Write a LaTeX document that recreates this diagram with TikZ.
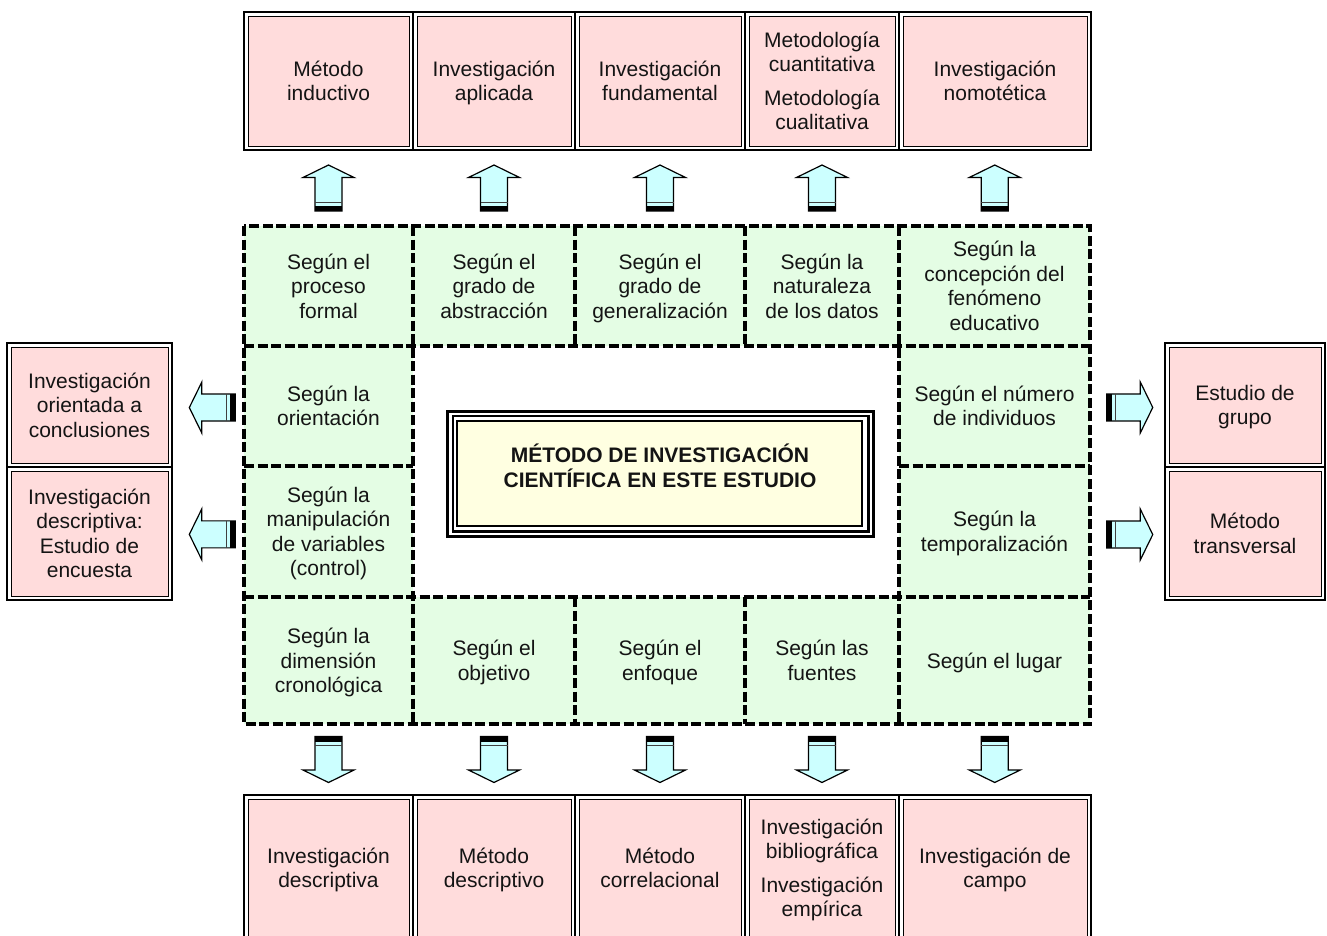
\documentclass[tikz,border=0pt]{standalone}
\usepackage{fontspec}
\setmainfont{Liberation Sans}
\usetikzlibrary{calc}
\definecolor{pinkc}{HTML}{FFDCDC}
\definecolor{greenc}{HTML}{E4FDE4}
\definecolor{arrowc}{HTML}{CCFFFF}
\definecolor{yellowc}{HTML}{FFFFE1}
\definecolor{inkc}{HTML}{141414}

\tikzset{
  blockarrow/.pic={
    \filldraw[fill=arrowc, draw=black, line width=1.2pt, line join=miter]
      (0,-23) -- (25.5,-10.5) -- (13.5,-10.5) -- (13.5,23) -- (-13.5,23)
      -- (-13.5,-10.5) -- (-25.5,-10.5) -- cycle;
    \fill[black] (-13.5,17.5) rectangle (13.5,23);
    \draw[line width=1.3pt, black!75] (-13.5,14.3) -- (13.5,14.3);
  }
}

\begin{document}
\begin{tikzpicture}[x=1pt,y=-1pt,
  every node/.style={inner sep=0pt, outer sep=0pt, align=center, text=inkc,
    font=\fontsize{21}{24.5}\selectfont, text depth=-3pt},
  pinkbox/.style={draw=black, fill=white, line width=2.6pt,
    path picture={\filldraw[fill=pinkc, draw=black, line width=0.9pt]
      ([xshift=4pt,yshift=-4pt]path picture bounding box.north west) rectangle
      ([xshift=-4pt,yshift=4pt]path picture bounding box.south east);}},
  cell/.style={fill=greenc},
  gridline/.style={draw=black, line width=3.5pt, dash pattern=on 10pt off 3.5pt, line cap=butt},
  colA/.style={minimum width=169pt},
  colB/.style={minimum width=162pt},
  colC/.style={minimum width=170pt},
  colD/.style={minimum width=154pt},
  colE/.style={minimum width=191pt},
  topH/.style={minimum height=138pt},
  botH/.style={minimum height=146pt},
]
\useasboundingbox (0,0) rectangle (1327,936);
\clip (0,0) rectangle (1327,936);

% results above
\node[pinkbox, colA, topH] (t1) at (328.5,81) {Método\\inductivo};
\node[pinkbox, colB, topH] (t2) at (494,81) {Investigación\\aplicada};
\node[pinkbox, colC, topH] (t3) at (660,81) {Investigación\\fundamental};
\node[pinkbox, colD, topH] (t4) at (822,81) {Metodología\\cuantitativa\\[9pt]Metodología\\cualitativa};
\node[pinkbox, minimum width=192pt, topH] (t5) at (995,81) {Investigación\\nomotética};

% criteria ring
\node[cell, colA, minimum height=120pt] (r1c1) at (328.5,286) {Según el\\proceso\\formal};
\node[cell, colB, minimum height=120pt] (r1c2) at (494,286) {Según el\\grado de\\abstracción};
\node[cell, colC, minimum height=120pt] (r1c3) at (660,286) {Según el\\grado de\\generalización};
\node[cell, colD, minimum height=120pt] (r1c4) at (822,286) {Según la\\naturaleza\\de los datos};
\node[cell, colE, minimum height=120pt] (r1c5) at (994.5,286) {Según la\\concepción del\\fenómeno\\educativo};

\node[cell, colA, minimum height=120pt] (r2c1) at (328.5,406) {Según la\\orientación};
\node[cell, colE, minimum height=120pt] (r2c5) at (994.5,406) {Según el número\\de individuos};

\node[cell, colA, minimum height=131pt] (r3c1) at (328.5,531.5) {Según la\\manipulación\\de variables\\(control)};
\node[cell, colE, minimum height=131pt] (r3c5) at (994.5,531.5) {Según la\\temporalización};

\node[cell, colA, minimum height=127pt] (r4c1) at (328.5,660.5) {Según la\\dimensión\\cronológica};
\node[cell, colB, minimum height=127pt] (r4c2) at (494,660.5) {Según el\\objetivo};
\node[cell, colC, minimum height=127pt] (r4c3) at (660,660.5) {Según el\\enfoque};
\node[cell, colD, minimum height=127pt] (r4c4) at (822,660.5) {Según las\\fuentes};
\node[cell, colE, minimum height=127pt] (r4c5) at (994.5,660.5) {Según el lugar};

% dashed grid
\draw[gridline] (r1c1.north west) rectangle (r4c5.south east);
\draw[gridline] (r1c1.south west) -- (r1c5.south east);
\draw[gridline] (r4c1.north west) -- (r4c5.north east);
\draw[gridline] (r2c1.south west) -- (r2c1.south east);
\draw[gridline] (r2c5.south west) -- (r2c5.south east);
\draw[gridline] (r1c1.north east) -- (r4c1.south east);
\draw[gridline] (r1c5.north west) -- (r4c5.south west);
\draw[gridline] (r1c2.north east) -- (r1c2.south east);
\draw[gridline] (r1c3.north east) -- (r1c3.south east);
\draw[gridline] (r4c2.north east) -- (r4c2.south east);
\draw[gridline] (r4c3.north east) -- (r4c3.south east);

% central title
\node[fill=yellowc, draw=black, line width=2pt, minimum width=405pt, minimum height=104.5pt] (title) at (659.5,473.25) {};
\draw[line width=2.2pt] ([shift={(-4,-5)}]title.north west) rectangle ([shift={(6.5,6)}]title.south east);
\draw[line width=3pt] ([shift={(-9.5,-9.5)}]title.north west) rectangle ([shift={(11,10.5)}]title.south east);
\node[font=\fontsize{21}{24.5}\selectfont\bfseries, text depth=3pt] (titletext) at (660,467) {MÉTODO DE INVESTIGACIÓN\\CIENTÍFICA EN ESTE ESTUDIO};

% results below
\node[pinkbox, colA, botH] (b1) at (328.5,868) {Investigación\\descriptiva};
\node[pinkbox, colB, botH] (b2) at (494,868) {Método\\descriptivo};
\node[pinkbox, colC, botH] (b3) at (660,868) {Método\\correlacional};
\node[pinkbox, colD, botH] (b4) at (822,868) {Investigación\\bibliográfica\\[9pt]Investigación\\empírica};
\node[pinkbox, minimum width=192pt, botH] (b5) at (995,868) {Investigación de\\campo};

% results at the sides
\node[pinkbox, minimum width=165pt, minimum height=124pt] (L1) at (89.5,405) {Investigación\\orientada a\\conclusiones};
\node[pinkbox, minimum width=165pt, minimum height=133pt] (L2) at (89.5,533.5) {Investigación\\descriptiva:\\Estudio de\\encuesta};
\node[pinkbox, minimum width=160pt, minimum height=124pt] (R1) at (1245,405) {Estudio de\\grupo};
\node[pinkbox, minimum width=160pt, minimum height=133pt] (R2) at (1245,533.5) {Método\\transversal};

% block arrows
\foreach \i in {1,...,5} {
  \pic at ($(t\i.south)!0.5!(r1c\i.north)$) {blockarrow};
  \pic[rotate=180] at ($(r4c\i.south)!0.5!(b\i.north)$) {blockarrow};
}
\pic[rotate=90] at ($(L1.east)!0.56!(r2c1.west)+(0,2)$) {blockarrow};
\pic[rotate=90] at ($(L2.east)!0.56!(r3c1.west)+(0,2)$) {blockarrow};
\pic[rotate=-90] at ($(r2c5.east)!0.53!(R1.west)+(0,2)$) {blockarrow};
\pic[rotate=-90] at ($(r3c5.east)!0.53!(R2.west)+(0,2)$) {blockarrow};
\end{tikzpicture}
\end{document}
